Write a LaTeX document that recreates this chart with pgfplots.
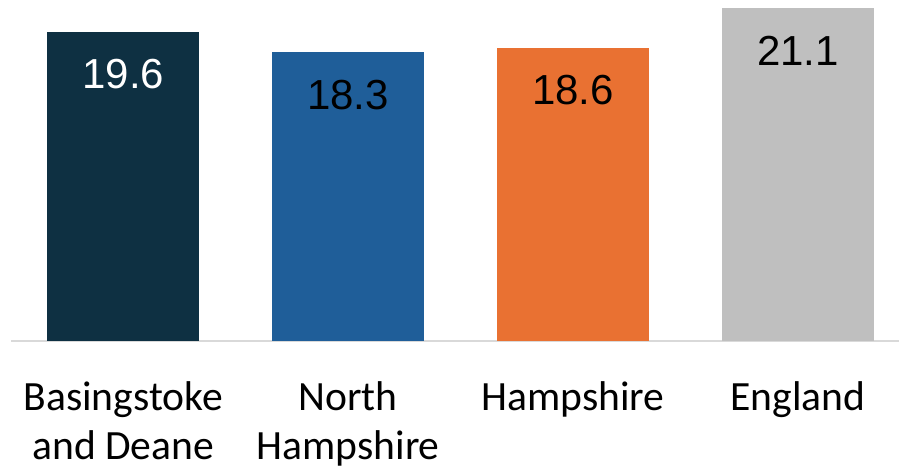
\documentclass[border=0pt]{standalone}
\usepackage{fontspec}
\setmainfont{Carlito}
\newfontfamily\valfont{Liberation Sans}
\usepackage{pgfplots}
\pgfplotsset{compat=1.18}
\usetikzlibrary{calc}
\definecolor{navy}{HTML}{0E3042}
\definecolor{midblue}{HTML}{1F5E99}
\definecolor{orng}{HTML}{E97132}
\definecolor{lgray}{HTML}{BFBFBF}
\definecolor{axisgray}{HTML}{D9D9D9}
\begin{document}
\begin{tikzpicture}
\begin{axis}[
  scale only axis, width=444bp, height=170.5bp,
  xmin=-0.499, xmax=3.449, ymin=0, ymax=21.62,
  axis x line=bottom, axis y line=none,
  x axis line style={draw=axisgray, line width=1bp, -},
  xtick={0,1,2,3},
  xticklabels={{Basingstoke\\and Deane},{North\\Hampshire},Hampshire,England},
  major tick length=0pt,
  xticklabel style={align=center, font=\fontsize{20.8bp}{24.5bp}\selectfont, anchor=north, yshift=-17bp},
  ybar, bar width=76bp,
  point meta=explicit symbolic,
  nodes near coords,
  nodes near coords style={font=\valfont\fontsize{21bp}{25bp}\selectfont, anchor=center, yshift=-21.25bp, text=black},
  clip=false,
]
\addplot[fill=navy, draw=none, bar shift=0pt, nodes near coords style={text=white}] coordinates {(0,19.6) [19.6]};
\addplot[fill=midblue, draw=none, bar shift=0pt] coordinates {(1,18.3) [18.3]};
\addplot[fill=orng, draw=none, bar shift=0pt] coordinates {(2,18.6) [18.6]};
\addplot[fill=lgray, draw=none, bar shift=0pt] coordinates {(3,21.1) [21.1]};
\end{axis}
\pgfresetboundingbox
\path[use as bounding box] ($(current axis.south west)+(-5.5bp,-63.5bp)$) rectangle (current axis.north east);
\end{tikzpicture}
\end{document}
